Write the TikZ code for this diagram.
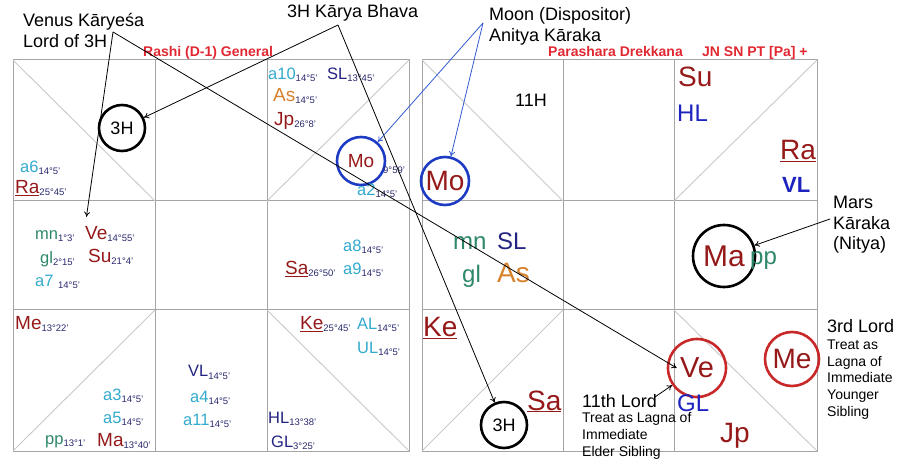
\documentclass[tikz,border=0pt]{standalone}
\usepackage{fontspec}
\setmainfont{Liberation Sans}
\usepackage{tikz}
\usepackage{xcolor}
\usetikzlibrary{arrows.meta,positioning}

\definecolor{planet}{RGB}{150,25,25}
\definecolor{amark}{RGB}{50,170,205}
\definecolor{navy}{RGB}{35,35,130}
\definecolor{lagblue}{RGB}{30,35,190}
\definecolor{ochre}{RGB}{215,130,45}
\definecolor{upagreen}{RGB}{45,135,105}
\definecolor{degcol}{RGB}{40,40,110}
\definecolor{titlered}{RGB}{225,40,50}
\definecolor{ringred}{RGB}{200,40,40}
\definecolor{ringblue}{RGB}{30,60,195}
\definecolor{moonblue}{RGB}{50,90,210}
\definecolor{gridgray}{RGB}{165,165,165}
\definecolor{diaggray}{RGB}{200,200,200}

\newcommand{\dg}[1]{\raisebox{-2pt}{\fontsize{9.5}{10}\selectfont\color{degcol}#1}}

\begin{document}
\begin{tikzpicture}[
    x=1pt, y=-1pt,
    cell/.style={draw=gridgray, line width=1pt},
    splitline/.style={draw=diaggray, line width=0.9pt},
    lab/.style={inner sep=0pt, anchor=base west},
    graha/.style={lab, text=planet, font=\fontsize{19}{20}\selectfont},
    marker/.style={lab, font=\fontsize{16.5}{18}\selectfont},
    bigraha/.style={lab, text=planet, font=\fontsize{28}{30}\selectfont},
    bigmark/.style={lab, font=\fontsize{24}{26}\selectfont},
    ring/.style={circle, line width=2.6pt, inner sep=0pt},
    title/.style={lab, text=titlered, font=\bfseries\fontsize{14}{16}\selectfont},
    note/.style={lab, align=left, font=\fontsize{18}{21}\selectfont},
    smallnote/.style={lab, align=left, font=\fontsize{14}{16.6}\selectfont},
    pointer/.style={line width=0.8pt, -{To[length=5pt,width=6pt]}},
    moonpointer/.style={pointer, draw=moonblue}
]
\useasboundingbox (0,0) rectangle (897,462);

\draw [cell] (13,60) rectangle (409,451);
\draw [cell] (155,60) -- (155,451);
\draw [cell] (267,60) -- (267,451);
\draw [cell] (13,201) -- (409,201);
\draw [cell] (13,310) -- (409,310);
\draw [splitline] (13,60) -- (155,201);
\draw [splitline] (409,60) -- (267,201);
\draw [splitline] (13,451) -- (155,310);
\draw [splitline] (409,451) -- (267,310);

\draw [cell] (422,60) rectangle (817,451);
\draw [cell] (563,60) -- (563,451);
\draw [cell] (674,60) -- (674,451);
\draw [cell] (422,201) -- (817,201);
\draw [cell] (422,310) -- (817,310);
\draw [splitline] (422,60) -- (563,201);
\draw [splitline] (817,60) -- (674,201);
\draw [splitline] (422,451) -- (563,310);
\draw [splitline] (817,451) -- (674,310);

\node (rashi) [title] at (143,57) {Rashi (D-1) General};
\node (drekkana) [title] at (548,57) {Parashara Drekkana};
\node (flags) [title] at (702,57) {JN SN PT [Pa] +};

\node (h3a) [ring, draw=black, minimum size=46pt, font=\fontsize{18}{20}\selectfont] at (122,128) {3H};
\node (a6) [marker, text=amark] at (20,173) {a6\dg{14°5'}};
\node (ra1) [graha] at (15,194) {\underline{Ra}\dg{25°45'}};
\node (a10) [marker, text=amark] at (268,80) {a10\dg{14°5'}};
\node (sl1) [marker, text=navy] at (327,80) {SL\dg{13°45'}};
\node (as1) [graha, text=ochre] at (273,102) {As\dg{14°5'}};
\node (jp1) [graha] at (274,126) {Jp\dg{26°8'}};
\node (mo1) [ring, draw=ringblue, text=planet, minimum size=48pt, font=\fontsize{19}{20}\selectfont] at (361,161) {Mo};
\node (mosub) [lab] at (383,172) {\dg{9°59'}};
\node (a2) [marker, text=amark] at (357,196) {a2\dg{14°5'}};
\node (mn1) [marker, text=upagreen] at (35,240) {mn\dg{1°3'}};
\node (ve1) [graha] at (85,240) {Ve\dg{14°55'}};
\node (gl1) [marker, text=upagreen] at (40,264) {gl\dg{2°15'}};
\node (su1) [graha] at (88,263) {Su\dg{21°4'}};
\node (a7) [marker, text=amark] at (35,287) {a7 \dg{14°5'}};
\node (a8) [marker, text=amark] at (343,252) {a8\dg{14°5'}};
\node (sa1) [graha] at (285,275) {\underline{Sa}\dg{26°50'}};
\node (a9) [marker, text=amark] at (343,275) {a9\dg{14°5'}};
\node (me1) [graha] at (15,330) {Me\dg{13°22'}};
\node (a3) [marker, text=amark] at (103,400) {a3\dg{14°5'}};
\node (a5) [marker, text=amark] at (103,423) {a5\dg{14°5'}};
\node (pp1) [marker, text=upagreen] at (45,444) {pp\dg{13°1'}};
\node (ma1) [graha] at (97,446) {Ma\dg{13°40'}};
\node (vl1) [marker, text=navy] at (188,377) {VL\dg{14°5'}};
\node (a4) [marker, text=amark] at (190,402) {a4\dg{14°5'}};
\node (a11) [marker, text=amark] at (183,425) {a11\dg{14°5'}};
\node (ke1) [graha] at (300,330) {\underline{Ke}\dg{25°45'}};
\node (al) [marker, text=amark] at (357,330) {AL\dg{14°5'}};
\node (ul) [marker, text=amark] at (357,353) {UL\dg{14°5'}};
\node (hl1) [marker, text=navy] at (268,423) {HL\dg{13°38'}};
\node (gl2) [marker, text=navy] at (271,447) {GL\dg{3°25'}};

\node (h11) [lab, font=\fontsize{18}{20}\selectfont] at (515,107) {11H};
\node (mo2) [ring, draw=ringblue, text=planet, minimum size=48pt, font=\fontsize{28}{30}\selectfont] at (445,181) {Mo};
\node (su2) [bigraha] at (678,87) {Su};
\node (hl2) [bigmark, text=lagblue] at (677,122) {HL};
\node (ra2) [bigraha] at (780,160) {\underline{Ra}};
\node (vl2) [lab, text=lagblue, font=\bfseries\fontsize{22}{24}\selectfont] at (782,193) {VL};
\node (mn2) [bigmark, text=upagreen] at (453,250) {mn};
\node (sl2) [bigmark, text=navy] at (497,250) {SL};
\node (gl3) [bigmark, text=upagreen] at (462,283) {gl};
\node (as2) [bigraha, text=ochre] at (497,283) {As};
\node (ma2) [ring, draw=black, text=planet, minimum size=62pt, font=\fontsize{30}{32}\selectfont] at (724,256) {Ma};
\node (pp2) [bigmark, text=upagreen] at (750,265) {pp};
\node (ke2) [bigraha] at (423,337) {\underline{Ke}};
\node (sa2) [bigraha] at (527,410) {\underline{Sa}};
\node (h3b) [ring, draw=black, minimum size=46pt, font=\fontsize{18}{20}\selectfont] at (504,425) {3H};
\node (ve2) [ring, draw=ringred, text=planet, minimum size=58pt, font=\fontsize{29}{31}\selectfont] at (697,368) {Ve};
\node (me2) [ring, draw=ringred, text=planet, minimum size=54pt, font=\fontsize{28}{30}\selectfont] at (792,359) {Me};
\node (gl4) [bigmark, text=lagblue] at (677,411) {GL};
\node (jp2) [bigraha] at (720,442) {Jp};

\node (venuslab) [note] at (23,48) {Venus Kāryeśa\\Lord of 3H};
\node (karyalab) [note] at (287,18) {3H Kārya Bhava};
\node (moonlab) [note] at (489,42) {Moon (Dispositor)\\Anitya Kāraka};
\node (marslab) [note, font=\fontsize{18}{20.5}\selectfont] at (833,250) {Mars\\Kāraka\\(Nitya)};
\node (lord11) [note] at (582,407) {11th Lord};
\node (lord11note) [smallnote] at (582,456) {Treat as Lagna of\\Immediate\\Elder Sibling};
\node (lord3) [note] at (827,333) {3rd Lord};
\node (lord3note) [smallnote] at (827,416) {Treat as\\Lagna of\\Immediate\\Younger\\Sibling};

\coordinate (venusfoot) at (113,32);
\coordinate (karyafoot) at (338,25);
\coordinate (moonfoot) at (483,23);
\coordinate (marsfoot) at (830,219);
\coordinate (lord11foot) at (655,397);

\draw [pointer, shorten >=10pt] (venusfoot) -- (ve1.north west);
\draw [pointer] (venusfoot) -- ([xshift=10pt]ve2.west);
\draw [pointer] (karyafoot) -- (h3a);
\draw [pointer] (karyafoot) -- (h3b);
\draw [moonpointer] (moonfoot) -- (mo1);
\draw [moonpointer] (moonfoot) -- (mo2);
\draw [pointer] (marsfoot) -- (ma2);
\draw [pointer] (lord11foot) -- (ve2);
\end{tikzpicture}
\end{document}
